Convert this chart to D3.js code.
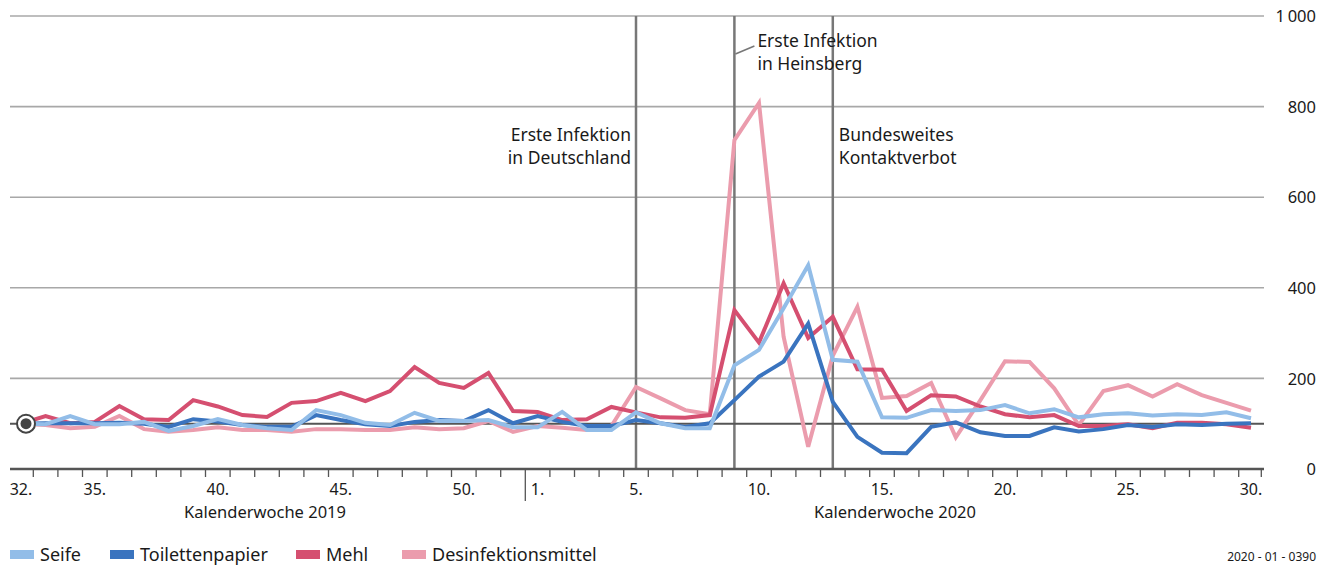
<!DOCTYPE html>
<html><head><meta charset="utf-8">
<script src="https://cdn.jsdelivr.net/npm/d3@7"></script>
<style>
body{margin:0;background:#fff;}
svg text{font-family:"Noto Sans",sans-serif;fill:#1a1a1a;}
</style></head>
<body><svg id="c" width="1327" height="565"></svg>
<script>
const weeks = ["32","33","34","35","36","37","38","39","40","41","42","43","44","45","46","47","48","49","50","51","52",
  "1","2","3","4","5","6","7","8","9","10","11","12","13","14","15","16","17","18","19","20","21","22","23","24","25","26","27","28","29","30"];
const weekLabels = {"32":"32.","35":"35.","40":"40.","45":"45.","50":"50.","1":"1.","5":"5.","10":"10.","15":"15.","20":"20.","25":"25.","30":"30."};
const seife = [100,99,117,99,99,104,84,95,110,97,90,86,130,119,102,97,124,106,106,108,92,
  92,126,86,86,125,101,90,90,229,263,355,450,241,237,114,113,130,128,130,141,123,132,114,121,123,118,121,119,125,112];
const toilettenpapier = [100,101,101,101,102,100,93,110,105,97,93,93,119,108,99,95,104,108,106,130,101,
  117,104,95,95,108,101,93,101,152,204,237,321,148,71,36,35,93,103,81,73,73,92,83,88,97,93,99,97,100,101];
const mehl = [100,117,101,104,139,110,108,152,138,119,115,146,150,168,150,172,225,190,179,212,128,
  126,108,110,137,125,114,113,119,351,279,410,289,336,220,219,128,163,160,138,121,114,119,95,95,99,90,102,102,99,91];
const desinfektion = [100,97,90,93,117,88,82,86,92,86,86,82,88,88,86,86,92,88,90,106,82,
  95,91,86,95,181,156,130,121,726,808,292,49,250,358,157,161,190,70,152,238,236,178,97,172,185,160,187,163,146,129];
const seriesNames = ["Seife","Toilettenpapier","Mehl","Desinfektionsmittel"];
const seriesColors = ["#92bde8","#3a74bf","#d54f70","#eb9cad"];
const yTicks = [0,200,400,600,800,1000];
const events = [{week:"5",lines:["Erste Infektion","in Deutschland"],side:"left"},
  {week:"9",lines:["Erste Infektion","in Heinsberg"],side:"right"},
  {week:"13",lines:["Bundesweites","Kontaktverbot"],side:"right"}];

const svg = d3.select("#c");
const x = d3.scalePoint().domain(weeks).range([21, 1251]);
const y = d3.scaleLinear().domain([0,1000]).range([469, 16]);
const step = x.step();
const left = 10, right = 1264;

// grid
const g = svg.append("g");
g.selectAll("line.grid").data(yTicks.filter(d=>d>0)).join("line")
  .attr("x1",left).attr("x2",right).attr("y1",d=>y(d)).attr("y2",d=>y(d))
  .attr("stroke","#a8a8a8").attr("stroke-width",1.6);
// right axis labels
const yAxis = d3.axisRight(y).tickValues(yTicks).tickSize(0)
  .tickFormat(d=>d3.format(",")(d).replace(",","\u2009"));
const ya = svg.append("g").attr("transform",`translate(1316,0)`).call(yAxis);
ya.select(".domain").remove();
ya.selectAll("text").attr("x",0).attr("text-anchor","end").style("font-size","16.5px").attr("dy","0.35em");

// event lines
svg.selectAll("line.ev").data(events).join("line")
  .attr("x1",d=>x(d.week)).attr("x2",d=>x(d.week)).attr("y1",y(1000)).attr("y2",y(0))
  .attr("stroke","#777").attr("stroke-width",2.5);

// reference line at 100
svg.append("line").attr("x1",left).attr("x2",right).attr("y1",y(100)).attr("y2",y(100))
  .attr("stroke","#555").attr("stroke-width",2);

// series
const dataSets = [desinfektion, mehl, toilettenpapier, seife];
const colorsDraw = [seriesColors[3], seriesColors[2], seriesColors[1], seriesColors[0]];
const line = d3.line().x((d,i)=>x(weeks[i])).y(d=>y(d));
svg.selectAll("path.s").data(dataSets).join("path")
  .attr("d",d=>line(d)).attr("fill","none")
  .attr("stroke",(d,i)=>colorsDraw[i]).attr("stroke-width",4).attr("stroke-linejoin","miter").attr("stroke-miterlimit",3);

// x axis
const xa = svg.append("g");
xa.append("line").attr("x1",left).attr("x2",right).attr("y1",y(0)).attr("y2",y(0))
  .attr("stroke","#555").attr("stroke-width",2.5);
xa.selectAll("line.tk").data(weeks.slice(0,-1)).join("line")
  .attr("x1",d=>x(d)+step/2).attr("x2",d=>x(d)+step/2)
  .attr("y1",y(0)).attr("y2",d=>d==="52"?y(0)+32:y(0)+8)
  .attr("stroke","#555").attr("stroke-width",1.3);
xa.append("line").attr("x1",x("30")+step/2-2).attr("x2",x("30")+step/2-2).attr("y1",y(0)).attr("y2",y(0)+8)
  .attr("stroke","#555").attr("stroke-width",1.3);
xa.selectAll("text.wl").data(weeks.filter(w=>weekLabels[w])).join("text")
  .attr("x",d=>x(d)).attr("y",495).attr("text-anchor","middle").style("font-size","16px")
  .text(d=>weekLabels[d]);
xa.append("text").attr("x",265).attr("y",518).attr("text-anchor","middle").style("font-size","16.5px").text("Kalenderwoche 2019");
xa.append("text").attr("x",895).attr("y",518).attr("text-anchor","middle").style("font-size","16.5px").text("Kalenderwoche 2020");

// start circle
svg.append("circle").attr("cx",x("32")+5).attr("cy",y(100)).attr("r",9).attr("fill","#fff").attr("stroke","#444").attr("stroke-width",2);
svg.append("circle").attr("cx",x("32")+5).attr("cy",y(100)).attr("r",5.5).attr("fill","#444");

// event labels
const lblY = [135, 41, 135];
events.forEach((e,i)=>{
  const xx = x(e.week);
  const t = svg.append("text").style("font-size","17.5px")
    .attr("text-anchor", e.side==="left"?"end":"start");
  e.lines.forEach((l,j)=>t.append("tspan").attr("x", e.side==="left"?xx-5:xx+(i===1?23:6))
     .attr("y", lblY[i]+j*23+6).text(l));
});
// leader for Heinsberg
svg.append("line").attr("x1",x("9")+1).attr("y1",54).attr("x2",x("9")+20).attr("y2",46)
  .attr("stroke","#777").attr("stroke-width",1.5);

// legend
const leg = svg.append("g");
const legX = [10,110,296,402];
seriesNames.forEach((n,i)=>{
  leg.append("rect").attr("x",legX[i]).attr("y",550).attr("width",24).attr("height",9).attr("fill",seriesColors[i]);
  leg.append("text").attr("x",legX[i]+30).attr("y",561).style("font-size","18px").text(n);
});
svg.append("text").attr("x",1316).attr("y",561).attr("text-anchor","end").style("font-size","12px").text("2020 - 01 - 0390");
</script></body></html>
